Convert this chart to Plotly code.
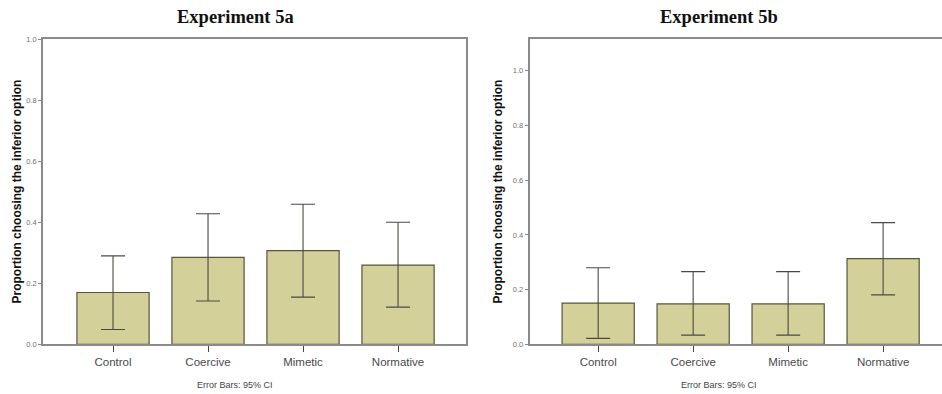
import plotly.graph_objects as go

categories = ["Control", "Coercive", "Mimetic", "Normative"]

# Experiment 5a
means_5a = [0.170, 0.285, 0.307, 0.260]
ci_hi_5a = [0.290, 0.428, 0.459, 0.400]
ci_lo_5a = [0.049, 0.142, 0.155, 0.122]

# Experiment 5b
means_5b = [0.151, 0.148, 0.148, 0.313]
ci_hi_5b = [0.280, 0.266, 0.266, 0.445]
ci_lo_5b = [0.022, 0.034, 0.034, 0.181]

y_ticks = [0.0, 0.2, 0.4, 0.6, 0.8, 1.0]
y_tick_text = ["0.0", "0.2", "0.4", "0.6", "0.8", "1.0"]

W, H = 942, 394
bar_fill = "#d4d09a"
bar_line = "#55553f"
err_col = "#4a4a40"
axis_col = "#8a8a8a"

fig = go.Figure()

def add_panel(means, hi, lo, xa, ya):
    fig.add_trace(go.Bar(
        x=categories, y=means, xaxis=xa, yaxis=ya, width=0.76,
        marker=dict(color=bar_fill, line=dict(color=bar_line, width=1.2)),
        error_y=dict(type="data", symmetric=False,
                     array=[h - m for h, m in zip(hi, means)],
                     arrayminus=[m - l for m, l in zip(means, lo)],
                     color=err_col, thickness=1.1, width=12),
        showlegend=False, hoverinfo="skip"))

add_panel(means_5a, ci_hi_5a, ci_lo_5a, "x", "y")
add_panel(means_5b, ci_hi_5b, ci_lo_5b, "x2", "y2")

def py(v):
    # vertical pixel (from top) -> paper fraction
    return 1 - ((v - 3.3) / 0.978) / H

ydom = [py(344), py(38.5)]
xax_common = dict(type="category", showline=True, linecolor=axis_col, linewidth=1.5,
                  ticks="outside", ticklen=6, tickcolor="#444", tickwidth=1.2,
                  tickfont=dict(family="Liberation Sans, Arial", size=11.5, color="#4a4a4a"),
                  showgrid=False, zeroline=False, fixedrange=True)
yax_common = dict(showline=True, linecolor=axis_col, linewidth=1.5,
                  ticks="outside", ticklen=3, tickcolor="#888", tickwidth=1,
                  tickvals=y_ticks, ticktext=y_tick_text,
                  tickfont=dict(family="Liberation Sans, Arial", size=7.5, color="#707070"),
                  showgrid=False, zeroline=False, fixedrange=True)

fig.update_layout(
    width=W, height=H, margin=dict(l=0, r=0, t=0, b=0),
    paper_bgcolor="white", plot_bgcolor="white", bargap=0.2,
    xaxis=dict(domain=[43 / W, 465.5 / W], range=[-0.737, 3.71], mirror=True, anchor="y", **xax_common),
    yaxis=dict(domain=ydom, range=[0, 1.0], mirror=True, anchor="x", **yax_common),
    xaxis2=dict(domain=[529.5 / W, 1.0], range=[-0.723, 3.62], mirror=True, anchor="y2", **xax_common),
    yaxis2=dict(domain=ydom, range=[0, 1.115], mirror=False, anchor="x2", **yax_common),
)

ytitle = "Proportion choosing the inferior option"
ann_font = dict(family="Liberation Sans, Arial", size=12, color="#111")
for xc in (17, 498):
    fig.add_annotation(text="<b>" + ytitle + "</b>", xref="paper", yref="paper",
                       x=xc / W, y=py(191), showarrow=False, textangle=-90,
                       font=ann_font, xanchor="center", yanchor="middle")

for xc, t in ((235, "Experiment 5a"), (719, "Experiment 5b")):
    fig.add_annotation(text="<b>" + t + "</b>", xref="paper", yref="paper",
                       x=xc / W, y=py(16), showarrow=False,
                       font=dict(family="Liberation Serif, Times New Roman", size=18.5, color="#111"),
                       xanchor="center", yanchor="middle")
    fig.add_annotation(text="Error Bars: 95% CI", xref="paper", yref="paper",
                       x=xc / W, y=py(385), showarrow=False,
                       font=dict(family="Liberation Sans, Arial", size=9, color="#444"),
                       xanchor="center", yanchor="middle")

fig.write_html("out.html", config={"displayModeBar": False},
               post_script="document.body.style.margin='0';document.body.style.overflow='hidden';")
